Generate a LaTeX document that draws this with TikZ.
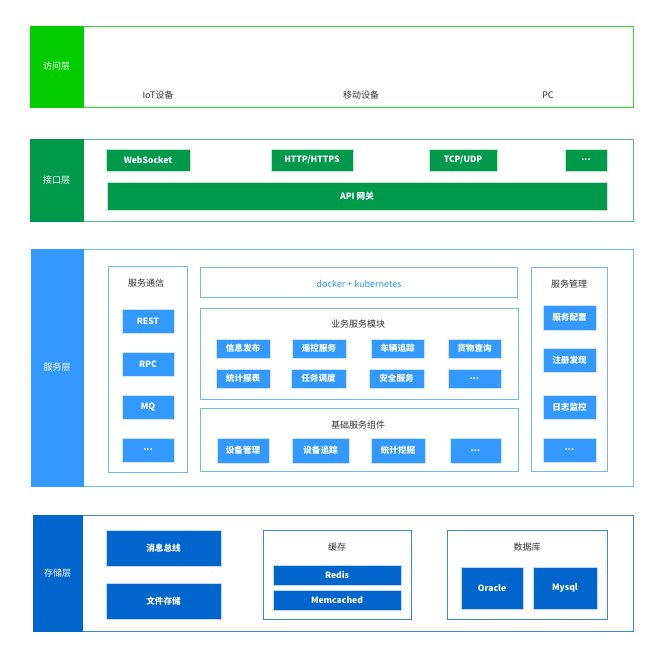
\documentclass[tikz,border=0pt]{standalone}
\usepackage{fontspec}
\setmainfont{Noto Sans CJK SC}
\usetikzlibrary{positioning}
\definecolor{gA}{HTML}{00CC00}
\definecolor{gAb}{HTML}{33DD33}
\definecolor{gB}{HTML}{00994C}
\definecolor{gBb}{HTML}{55BB88}
\definecolor{bC}{HTML}{3399FF}
\definecolor{bCb}{HTML}{77B5F5}
\definecolor{bD}{HTML}{0066CC}
\definecolor{bDb}{HTML}{3D88D6}
\definecolor{tx}{HTML}{333333}
\tikzset{
  base/.style={anchor=north west,inner sep=0pt,outer sep=0pt,font=\fontsize{9}{10}\selectfont},
  layer/.style={base,draw=#1,line width=0.8pt,fill=white},
  lab/.style={base,fill=#1,draw=#1,text=white},
  grp/.style={base,draw=#1,line width=0.8pt,fill=white},
  btn/.style={base,fill=#1,draw=white!75!#1,line width=0.5pt,text=white,font=\fontsize{8.6}{10}\selectfont\bfseries},
  ttl/.style={inner sep=0pt,text=tx,font=\fontsize{9}{10}\selectfont},
}
\newcommand{\bx}[7]{\node[#1,minimum width=#4-#2,minimum height=#5-#3] (#6) at (#2,#3) {#7};}
\begin{document}
\begin{tikzpicture}[x=1pt,y=-1pt]
\useasboundingbox (0,0) rectangle (645,653);
% ---------- layer 1
\bx{layer=gAb}{30}{26}{633}{107}{L1}{}
\bx{lab=gA}{30}{26}{83}{107}{L1l}{访问层}
\node[ttl] (iot) at (158,95) {IoT设备};
\node[ttl] (mob) at (361,95) {移动设备};
\node[ttl] (pc) at (548,95) {PC};
% ---------- layer 2
\bx{layer=gBb}{30}{139}{633}{221}{L2}{}
\bx{lab=gB}{30}{139}{83}{221}{L2l}{接口层}
\bx{btn=gB}{106}{149}{190}{171}{ws}{WebSocket}
\bx{btn=gB}{271}{149}{353}{171}{http}{HTTP/HTTPS}
\bx{btn=gB}{429}{149}{497}{171}{tcp}{TCP/UDP}
\bx{btn=gB}{565}{149}{607}{171}{ifmore}{...}
\bx{btn=gB}{107}{182}{607}{210}{api}{API 网关}
% ---------- layer 3
\bx{layer=bCb}{31}{249}{633}{486}{L3}{}
\bx{lab=bC}{31}{249}{83}{486}{L3l}{服务层}
% 服务通信
\bx{grp=bCb}{108}{266}{187}{472}{comm}{}
\node[ttl] (commt) at (146,283) {服务通信};
\bx{btn=bC}{122}{309}{174}{333}{rest}{REST}
\bx{btn=bC}{122}{352}{174}{376}{rpc}{RPC}
\bx{btn=bC}{122}{395}{174}{419}{mq}{MQ}
\bx{btn=bC}{122}{438}{174}{462}{cmore}{...}
% docker
\bx{grp=bCb}{200}{267}{517}{297}{dock}{}
\node[inner sep=0pt,text=bC,font=\fontsize{9}{10}\selectfont] (dockt) at (359,284) {docker + kubernetes};
% 业务服务模块
\bx{grp=bCb}{200}{308}{518}{399}{biz}{}
\node[ttl] (bizt) at (358,324) {业务服务模块};
\bx{btn=bC}{216}{339}{270}{358}{b1}{信息发布}
\bx{btn=bC}{292}{339}{346}{358}{b2}{遥控服务}
\bx{btn=bC}{371}{339}{424}{358}{b3}{车辆追踪}
\bx{btn=bC}{448}{339}{501}{358}{b4}{货物查询}
\bx{btn=bC}{216}{369}{270}{388}{b5}{统计报表}
\bx{btn=bC}{291}{369}{346}{388}{b6}{任务调度}
\bx{btn=bC}{369}{369}{424}{388}{b7}{安全服务}
\bx{btn=bC}{448}{369}{501}{388}{b8}{...}
% 基础服务组件
\bx{grp=bCb}{200}{408}{518}{471}{base}{}
\node[ttl] (baset) at (358,425) {基础服务组件};
\bx{btn=bC}{217}{438}{269}{463}{c1}{设备管理}
\bx{btn=bC}{292}{438}{349}{463}{c2}{设备追踪}
\bx{btn=bC}{371}{438}{425}{463}{c3}{统计挖掘}
\bx{btn=bC}{450}{438}{501}{463}{c4}{...}
% 服务管理
\bx{grp=bCb}{531}{267}{607}{471}{mgmt}{}
\node[ttl] (mgmtt) at (569,284) {服务管理};
\bx{btn=bC}{543}{305}{596}{330}{m1}{服务配置}
\bx{btn=bC}{543}{348}{596}{372}{m2}{注册发现}
\bx{btn=bC}{543}{395}{596}{419}{m3}{日志监控}
\bx{btn=bC}{543}{438}{596}{462}{m4}{...}
% ---------- layer 4
\bx{layer=bDb}{33}{515}{633}{631}{L4}{}
\bx{lab=bD}{33}{515}{82}{631}{L4l}{存储层}
\bx{btn=bD}{106}{530}{221}{566}{bus}{消息总线}
\bx{btn=bD}{106}{583}{221}{619}{file}{文件存储}
\bx{grp=bDb}{263}{530}{411}{619}{cache}{}
\node[ttl] (cachet) at (337,547) {缓存};
\bx{btn=bD}{273}{565}{401}{585}{redis}{Redis}
\bx{btn=bD}{273}{590}{401}{610}{memc}{Memcached}
\bx{grp=bDb}{447}{530}{607}{619}{db}{}
\node[ttl] (dbt) at (527,547) {数据库};
\bx{btn=bD}{461}{567}{523}{609}{ora}{Oracle}
\bx{btn=bD}{533}{567}{597}{609}{mysql}{Mysql}
\end{tikzpicture}
\end{document}
